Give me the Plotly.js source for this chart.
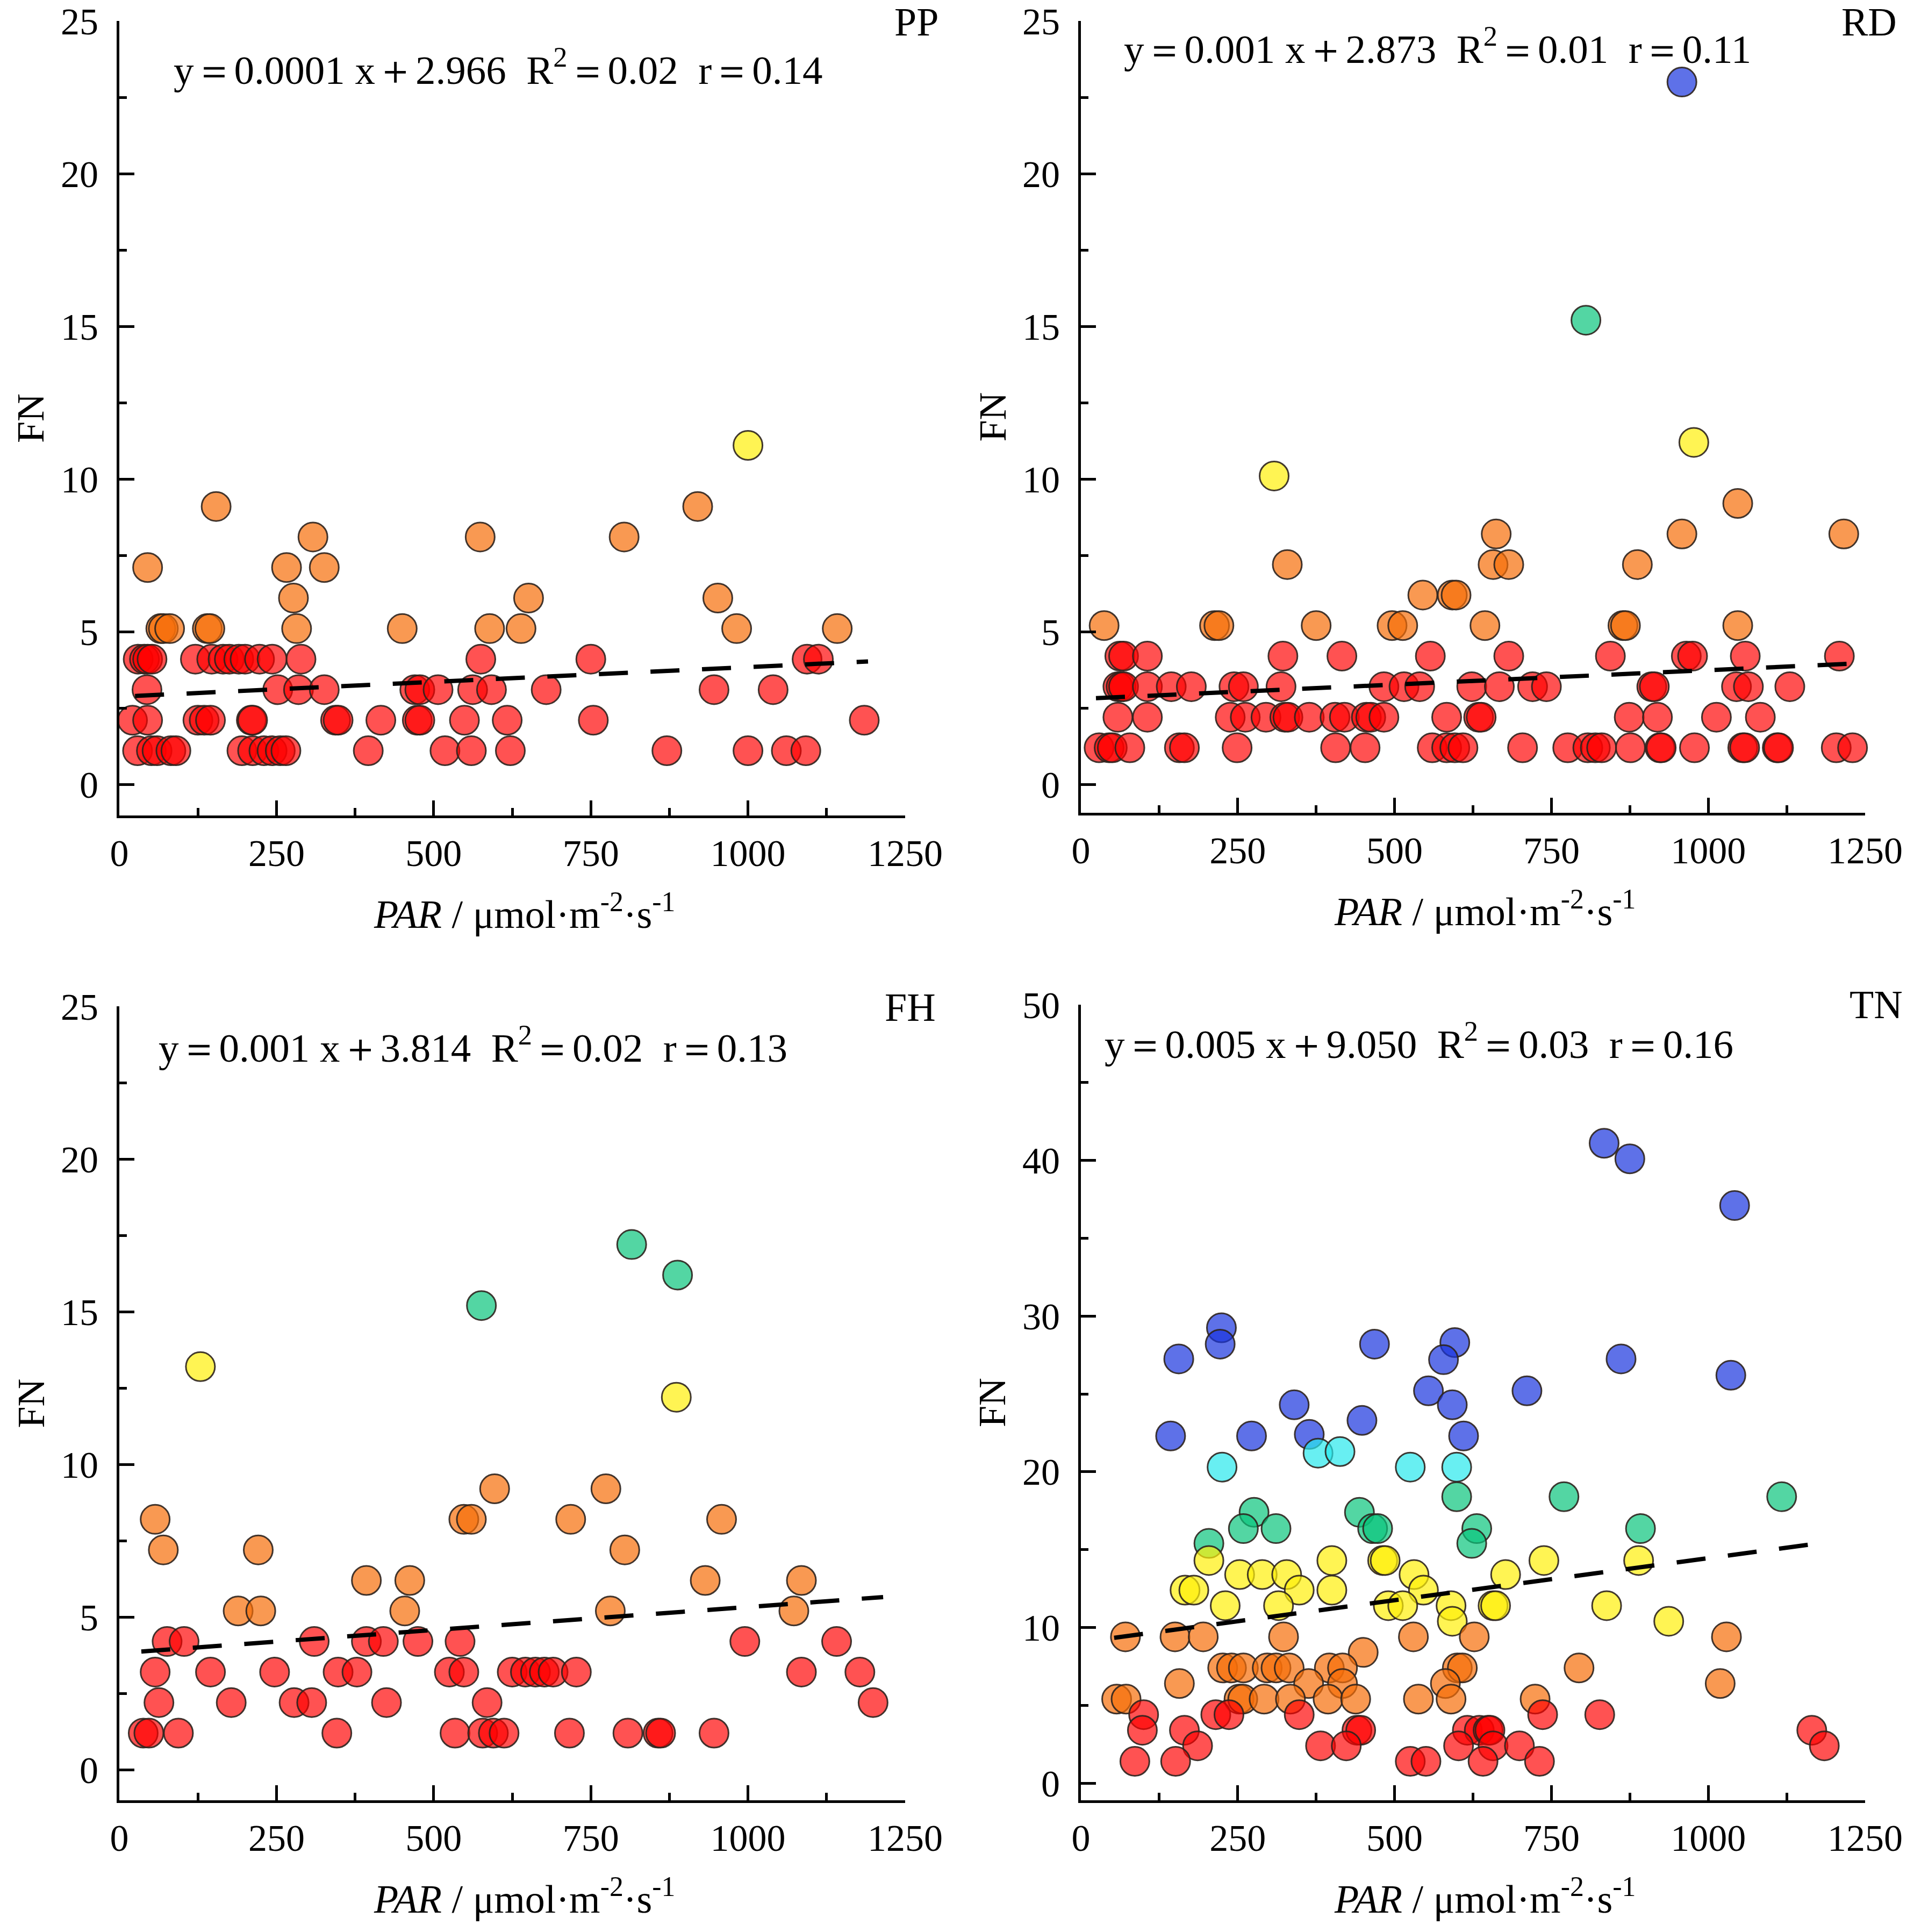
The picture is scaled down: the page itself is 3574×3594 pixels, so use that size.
<!DOCTYPE html>
<html><head><meta charset="utf-8">
<script src="https://cdn.plot.ly/plotly-3.0.1.min.js"></script>
<style>html,body{margin:0;padding:0;background:#fff}</style>
</head><body><div id="chart" style="width:3574px;height:3594px"></div>
<script>
// ---------- data ----------
const ppX = [1000, 154,920, 308,574,803, 45,266,326, 277,651,952,
  66,70,80,140,144,282,450,589,639,982,1142,
  30,40,45,52,121,147,165,175,190,200,223,243,289,575,750,1094,1112,
  44,252,285,326,470,478,507,562,592,679,946,1040,
  21,45,125,135,145,210,212,344,348,416,474,478,549,617,754,1185,
  29,51,60,82,90,195,212,230,243,256,265,396,518,560,622,871,1000,1061,1092];
const ppY = [11.1, 9.1,9.1, 8.1,8.1,8.1, 7.1,7.1,7.1, 6.1,6.1,6.1,
  5.1,5.1,5.1,5.1,5.1,5.1,5.1,5.1,5.1,5.1,5.1,
  4.1,4.1,4.1,4.1,4.1,4.1,4.1,4.1,4.1,4.1,4.1,4.1,4.1,4.1,4.1,4.1,4.1,
  3.1,3.1,3.1,3.1,3.1,3.1,3.1,3.1,3.1,3.1,3.1,3.1,
  2.1,2.1,2.1,2.1,2.1,2.1,2.1,2.1,2.1,2.1,2.1,2.1,2.1,2.1,2.1,2.1,
  1.1,1.1,1.1,1.1,1.1,1.1,1.1,1.1,1.1,1.1,1.1,1.1,1.1,1.1,1.1,1.1,1.1,1.1,1.1];

const rdX = [958, 805, 308, 977,
  1047, 662,958,1216, 329,657,682,887, 545,592,598,
  37,213,220,375,496,513,644,864,868,1047,
  62,68,106,322,416,557,682,844,965,975,1059,1209,
  59,64,68,106,144,176,244,259,319,483,515,540,623,667,720,742,910,914,1045,1064,1130,
  59,106,238,262,295,325,330,364,405,420,455,462,483,583,634,638,874,919,1013,1083,
  29,45,50,78,157,165,249,406,453,560,583,596,609,704,776,808,820,830,876,923,925,978,1055,1058,1110,1112,1204,1230];
const rdY = [23.0, 15.2, 10.1, 11.2,
  9.2, 8.2,8.2,8.2, 7.2,7.2,7.2,7.2, 6.2,6.2,6.2,
  5.2,5.2,5.2,5.2,5.2,5.2,5.2,5.2,5.2,5.2,
  4.2,4.2,4.2,4.2,4.2,4.2,4.2,4.2,4.2,4.2,4.2,4.2,
  3.2,3.2,3.2,3.2,3.2,3.2,3.2,3.2,3.2,3.2,3.2,3.2,3.2,3.2,3.2,3.2,3.2,3.2,3.2,3.2,3.2,
  2.2,2.2,2.2,2.2,2.2,2.2,2.2,2.2,2.2,2.2,2.2,2.2,2.2,2.2,2.2,2.2,2.2,2.2,2.2,2.2,
  1.2,1.2,1.2,1.2,1.2,1.2,1.2,1.2,1.2,1.2,1.2,1.2,1.2,1.2,1.2,1.2,1.2,1.2,1.2,1.2,1.2,1.2,1.2,1.2,1.2,1.2,1.2,1.2];

const fhX = [815,888,576, 129,886,
  597,774, 57,548,560,718,958, 70,221,804, 393,462,932,1085, 189,225,454,781,1073,
  76,103,310,393,420,475,542,995,1141,
  57,145,247,348,378,525,548,625,646,662,676,690,727,1085,1178,
  63,178,278,306,425,585,1199,
  38,47,94,346,534,578,595,612,716,809,857,861,946];
const fhY = [17.2,16.2,15.2, 13.2,12.2,
  9.2,9.2, 8.2,8.2,8.2,8.2,8.2, 7.2,7.2,7.2, 6.2,6.2,6.2,6.2, 5.2,5.2,5.2,5.2,5.2,
  4.2,4.2,4.2,4.2,4.2,4.2,4.2,4.2,4.2,
  3.2,3.2,3.2,3.2,3.2,3.2,3.2,3.2,3.2,3.2,3.2,3.2,3.2,3.2,3.2,
  2.2,2.2,2.2,2.2,2.2,2.2,2.2,
  1.2,1.2,1.2,1.2,1.2,1.2,1.2,1.2,1.2,1.2,1.2,1.2,1.2];

const tnX = [834,875,1042,224,222,156,468,596,578,861,1036,554,711,340,592,448,143,272,364,610,
  378,413,225,525,599,
  599,770,1117,276,444,259,311,465,473,631,892,204,623,
  204,400,481,485,738,889, 253,289,328,531,677, 166,180,348,400,546,
  230,315,490,513,590,657,661,838, 592,937,
  71,150,195,323,530,627,1029, 450,
  226,240,259,297,311,332,396,417,600,608,794,
  157,363,417,581,1019,
  57,72,252,258,292,334,394,438,538,590,724,
  100,215,236,348,736,827, 98,165,440,446,616,635,649,652,1165,
  186,382,423,602,657,699,1185, 86,151,525,550,641,731];
const tnY = [41.1,40.1,37.1,29.25,28.2,27.25,28.2,28.3,27.2,27.25,26.2,25.2,25.2,24.3,24.3,23.3,22.3,22.3,22.4,22.3,
  21.2,21.3,20.3,20.3,20.3,
  18.4,18.4,18.4,17.4,17.4,16.35,16.35,16.35,16.35,16.35,16.35,15.4,15.4,
  14.3,14.3,14.3,14.3,14.3,14.3, 13.4,13.4,13.4,13.4,13.4, 12.4,12.4,12.4,12.4,12.4,
  11.4,11.4,11.4,11.4,11.4,11.4,11.4,11.4, 10.4,10.4,
  9.4,9.4,9.4,9.4,9.4,9.4,9.4, 8.4,
  7.4,7.4,7.4,7.4,7.4,7.4,7.4,7.4,7.4,7.4,7.4,
  6.4,6.4,6.4,6.4,6.4,
  5.4,5.4,5.4,5.4,5.4,5.4,5.4,5.4,5.4,5.4,5.4,
  4.4,4.4,4.4,4.4,4.4,4.4, 3.4,3.4,3.4,3.4,3.4,3.4,3.4,3.4,3.4,
  2.4,2.4,2.4,2.4,2.4,2.4,2.4, 1.4,1.4,1.4,1.4,1.4,1.4];

// dashed trend lines (intercept, slope) and their x extent
const fitIntercepts = [2.87, 2.80, 3.82, 9.05];
const fitSlopes = [0.00097, 0.00094, 0.00151, 0.0054];
const fitXStart = [25, 24, 35, 53];
const fitXEnd = [1191, 1230, 1215, 1162];

const panelNames = ['PP','RD','FH','TN'];
const equations = [
  'y\uFF1D0.0001 x\uFF0B2.966  R<sup>2</sup>\uFF1D0.02  r\uFF1D0.14',
  'y\uFF1D0.001 x\uFF0B2.873  R<sup>2</sup>\uFF1D0.01  r\uFF1D0.11',
  'y\uFF1D0.001 x\uFF0B3.814  R<sup>2</sup>\uFF1D0.02  r\uFF1D0.13',
  'y\uFF1D0.005 x\uFF0B9.050  R<sup>2</sup>\uFF1D0.03  r\uFF1D0.16'
];
const xTickVals = [0,250,500,750,1000,1250];
const yMaxes = [25,25,25,50];
const yTickSteps = [5,5,5,10];
const xTitle = '<i>PAR</i> / \u03BCmol\u00B7m<sup>-2</sup>\u00B7s<sup>-1</sup>';
const yTitle = 'FN';

// ---------- styling ----------
const W = 3574, H = 3594;
const FONT = 'Liberation Serif, Times New Roman, serif';
const binEdges = [5,10,15,20,22];
const binColors = ['rgba(255,0,0,0.68)','rgba(246,110,8,0.70)','rgba(255,240,10,0.70)',
                   'rgba(10,196,124,0.70)','rgba(40,232,236,0.70)','rgba(25,52,222,0.70)'];
function colorFor(v){ let i=0; while(i<binEdges.length && v>=binEdges[i]) i++; return binColors[i]; }

// panel frames in pixels: [left,right] and [top,bottom]
const frames = [
  {xl:222, xr:1684, yt:39,   yb:1517},
  {xl:2011,xr:3470, yt:39,   yb:1512},
  {xl:222, xr:1684, yt:1872, yb:3349},
  {xl:2011,xr:3470, yt:1869, yb:3349}
];
const yBottoms = [-1.02,-0.93,-1.0,-1.1];
const eqPos = [[321,124],[2089,85],[293,1943],[2053,1936]];
const labelPos = [[1748,41],[3531,41],[1743,1874],[3542,1869]];

const data = [], annotations = [];
const layout = {
  width: W, height: H, margin:{l:0,r:0,t:0,b:0},
  paper_bgcolor:'#fff', plot_bgcolor:'#fff', showlegend:false,
  font:{family:FONT, color:'#000', size:70}
};
const xs = [ppX, rdX, fhX, tnX], ys = [ppY, rdY, fhY, tnY];

for(let k=0;k<4;k++){
  const f = frames[k];
  const xa = k===0?'xaxis':'xaxis'+(k+1), ya = k===0?'yaxis':'yaxis'+(k+1);
  const xr = k===0?'x':'x'+(k+1), yr = k===0?'y':'y'+(k+1);
  const X = xs[k], Y = ys[k];
  data.push({type:'scatter', mode:'markers', x:X, y:Y, xaxis:xr, yaxis:yr,
    marker:{size:54, color:Y.map(colorFor), line:{color:'rgba(45,35,30,0.9)', width:3}},
    hoverinfo:'skip', cliponaxis:false});
  const a = fitIntercepts[k], b = fitSlopes[k];
  const x0 = fitXStart[k], x1 = fitXEnd[k];
  data.push({type:'scatter', mode:'lines', x:[x0,x1], y:[a+b*x0, a+b*x1], xaxis:xr, yaxis:yr,
    line:{color:'#000', width:8, dash:'54px,42px'}, hoverinfo:'skip'});
  const common = {showgrid:false, zeroline:false, showline:true, linecolor:'#000', linewidth:5,
    ticks:'inside', ticklen:28, tickwidth:5, tickcolor:'#000', mirror:false,
    tickfont:{family:FONT, size:70, color:'#000'}};
  layout[xa] = Object.assign({}, common, {
    domain:[f.xl/W, f.xr/W], anchor:yr, range:[0,1250], tickmode:'array', tickvals:xTickVals,
    ticklabelstandoff:5, minor:{ticks:'inside', ticklen:14, tickwidth:5, tickcolor:'#000', dtick:125, tick0:0}});
  const yTicks = []; for(let v=0; v<=yMaxes[k]; v+=yTickSteps[k]) yTicks.push(v);
  layout[ya] = Object.assign({}, common, {
    domain:[1-f.yb/H, 1-f.yt/H], anchor:xr, range:[yBottoms[k], yMaxes[k]], tickmode:'array', tickvals:yTicks,
    ticklabelstandoff:20, minor:{ticks:'inside', ticklen:14, tickwidth:5, tickcolor:'#000', dtick:yTickSteps[k]/2, tick0:0}});
  annotations.push({xref:'paper', yref:'paper', x:eqPos[k][0]/W, y:1-eqPos[k][1]/H,
    xanchor:'left', yanchor:'middle', text:equations[k], showarrow:false,
    font:{family:FONT, size:75, color:'#000'}});
  annotations.push({xref:'paper', yref:'paper', x:labelPos[k][0]/W, y:1-labelPos[k][1]/H,
    xanchor:'right', yanchor:'middle', text:panelNames[k], showarrow:false,
    font:{family:FONT, size:74, color:'#000'}});
  annotations.push({xref:'paper', yref:'paper', x:(f.xl-165)/W, y:1-((f.yt+f.yb)/2)/H,
    xanchor:'center', yanchor:'middle', text:yTitle, textangle:-90, showarrow:false,
    font:{family:FONT, size:72, color:'#000'}});
  annotations.push({xref:'paper', yref:'paper', x:((f.xl+f.xr)/2 + 22)/W, y:1-(f.yb+178)/H,
    xanchor:'center', yanchor:'middle', text:xTitle, showarrow:false,
    font:{family:FONT, size:74, color:'#000'}});
}
layout.annotations = annotations;
Plotly.newPlot('chart', data, layout, {staticPlot:true, displayModeBar:false});
</script></body></html>
